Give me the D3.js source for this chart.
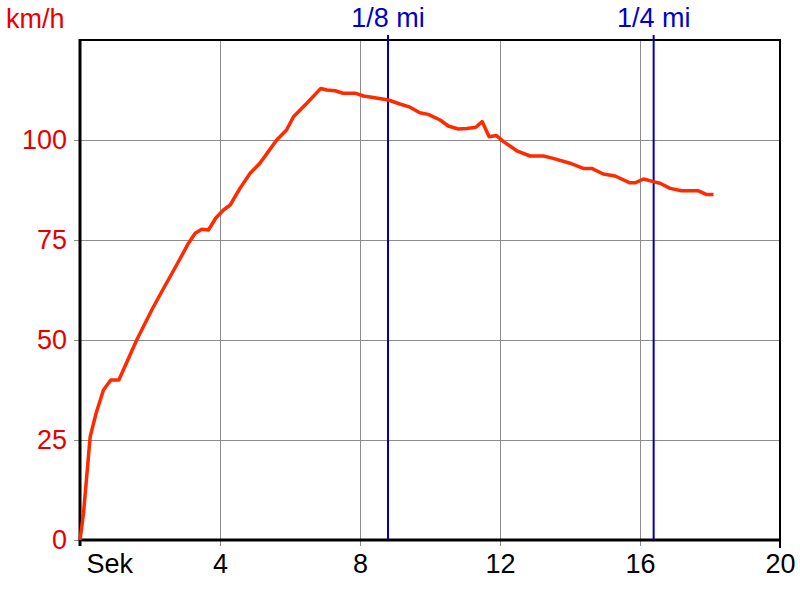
<!DOCTYPE html>
<html>
<head>
<meta charset="utf-8">
<script src="https://cdn.jsdelivr.net/npm/d3@7"></script>
<style>
  body { margin: 0; background: #fff; }
  svg { display: block; }
  text { font-family: "Liberation Sans", Arial, sans-serif; font-size: 27px; }
</style>
</head>
<body>
<svg id="chart" width="800" height="600"></svg>
<script>
// ---- data ----
const timeSec = [0, 0.1, 0.29, 0.46, 0.67, 0.88, 1.11, 1.62, 2.05, 2.33, 2.76, 3.1, 3.29, 3.48, 3.67, 3.88, 4.1, 4.29, 4.57, 4.86, 5.14, 5.38, 5.62, 5.9, 6.1, 6.48, 6.88, 7.05, 7.29, 7.52, 7.86, 8.1, 8.38, 8.81, 9.14, 9.43, 9.71, 9.95, 10.29, 10.52, 10.81, 11.05, 11.31, 11.49, 11.69, 11.9, 12.1, 12.48, 12.86, 13.24, 13.52, 14.0, 14.38, 14.62, 14.95, 15.29, 15.71, 15.86, 16.1, 16.38, 16.57, 16.86, 17.19, 17.67, 17.89, 18.1];
const speedKmh = [0, 6.7, 25.8, 31.7, 37.5, 40, 40, 50, 57.5, 62, 68.75, 74.2, 76.7, 77.7, 77.5, 80.5, 82.5, 83.75, 87.9, 91.7, 94.2, 97.1, 100, 102.5, 105.8, 109.2, 112.9, 112.5, 112.3, 111.7, 111.7, 111, 110.6, 110, 109, 108.2, 106.8, 106.4, 105, 103.5, 102.75, 102.9, 103.2, 104.6, 100.8, 101.1, 99.6, 97.3, 96, 96, 95.4, 94.2, 92.9, 92.9, 91.5, 91, 89.3, 89.3, 90.25, 89.6, 89.2, 87.9, 87.3, 87.3, 86.4, 86.4];
const xTicks = [0, 4, 8, 12, 16, 20];
const xTickLabels = ["Sek", "4", "8", "12", "16", "20"];
const yTicks = [0, 25, 50, 75, 100];
const yTickLabels = ["0", "25", "50", "75", "100"];
const markerTimes = [8.8, 16.39];
const markerLabels = ["1/8 mi", "1/4 mi"];
const yUnit = "km/h";

// ---- layout ----
const svg = d3.select("#chart");
const L = 80, R = 780, T = 40, B = 540;
const x = d3.scaleLinear().domain([0, 20]).range([L, R]);
const y = d3.scaleLinear().domain([0, 125]).range([B, T]);
const FONT = '"Liberation Sans", Arial, sans-serif';

svg.append("rect").attr("width", 800).attr("height", 600).attr("fill", "#fff");

// x grid + labels
const gx = svg.append("g").attr("transform", `translate(0,${B + 6})`)
  .call(d3.axisBottom(x).tickValues(xTicks).tickSize(-(B + 6 - T)).tickPadding(7.5)
    .tickFormat((d, i) => xTickLabels[i]));
gx.select(".domain").remove();
gx.selectAll(".tick line").attr("stroke", d => (d === 0 || d === 20) ? "#000" : "#8c8c8c").attr("stroke-width", 1);
gx.selectAll(".tick text").attr("fill", "#000").style("font-size", "27px").style("font-family", FONT);
gx.selectAll(".tick text").filter(d => d === 0).attr("text-anchor", "start").attr("x", 6);

// y grid + labels
const gy = svg.append("g").attr("transform", `translate(${L - 6},0)`)
  .call(d3.axisLeft(y).tickValues(yTicks).tickSize(-(R - L + 6)).tickPadding(7)
    .tickFormat((d, i) => yTickLabels[i]));
gy.select(".domain").remove();
gy.selectAll(".tick line").attr("stroke", "#8c8c8c").attr("stroke-width", 1);
gy.selectAll(".tick text").attr("fill", "#e80000").style("font-size", "27px").style("font-family", FONT);

// frame
svg.append("rect").attr("x", L).attr("y", T).attr("width", R - L).attr("height", B - T)
  .attr("fill", "none").attr("stroke", "#000").attr("stroke-width", 2);
svg.append("line").attr("x1", L).attr("x2", L).attr("y1", T - 1).attr("y2", B + 6)
  .attr("stroke", "#000").attr("stroke-width", 3);
svg.append("line").attr("x1", L).attr("x2", R + 1).attr("y1", B).attr("y2", B)
  .attr("stroke", "#000").attr("stroke-width", 3);
svg.append("line").attr("x1", R).attr("x2", R).attr("y1", B).attr("y2", B + 8)
  .attr("stroke", "#000").attr("stroke-width", 2);

// markers
markerTimes.forEach((t, i) => {
  svg.append("line").attr("x1", x(t)).attr("x2", x(t)).attr("y1", T - 5).attr("y2", B)
    .attr("stroke", "#0000b4").attr("stroke-width", 2);
  svg.append("text").attr("x", x(t)).attr("y", 27).attr("text-anchor", "middle")
    .attr("fill", "#0000cc").text(markerLabels[i]);
});

// unit label
svg.append("text").attr("x", 6).attr("y", 28).attr("fill", "#e80000").text(yUnit);

// speed line
const pts = timeSec.map((t, i) => [t, speedKmh[i]]);
svg.append("path").datum(pts)
  .attr("fill", "none").attr("stroke", "#ff2a00").attr("stroke-width", 3.5)
  .attr("stroke-linejoin", "round")
  .attr("d", d3.line().x(d => x(d[0])).y(d => y(d[1])));
</script>
</body>
</html>
